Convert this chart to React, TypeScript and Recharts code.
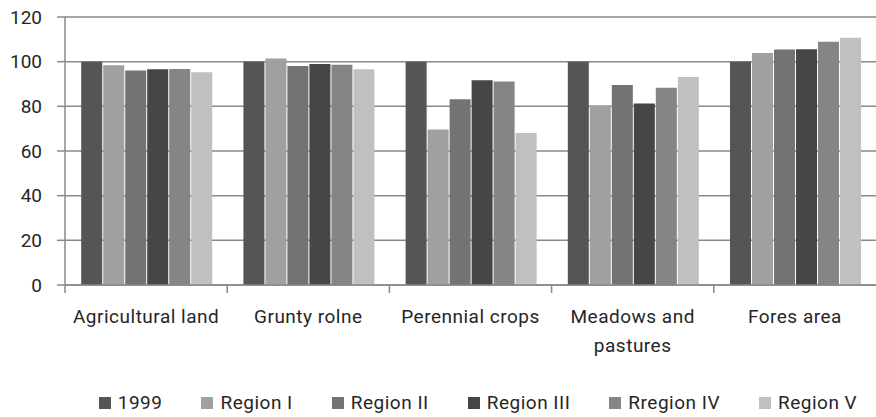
import React from "react";
import {
  BarChart,
  Bar,
  XAxis,
  YAxis,
  CartesianGrid,
  Legend,
  Text,
} from "recharts";

const categories = [
  "Agricultural land",
  "Grunty rolne",
  "Perennial crops",
  "Meadows and pastures",
  "Fores area",
];

const seriesNames = ["1999", "Region I", "Region II", "Region III", "Rregion IV", "Region V"];

const y1999 = [100, 100, 100, 100, 100];
const regionI = [98.4, 101.4, 69.6, 80.4, 103.9];
const regionII = [96.1, 98.1, 83.2, 89.5, 105.4];
const regionIII = [96.6, 98.9, 91.7, 81.3, 105.6];
const regionIV = [96.7, 98.6, 91.1, 88.3, 108.9];
const regionV = [95.3, 96.6, 68.1, 93.1, 110.7];

const yTicks = [0, 20, 40, 60, 80, 100, 120];

const COLORS = ["#555555", "#a0a0a0", "#737373", "#464646", "#858585", "#c0c0c0"];
const FONT = "Roboto, 'Liberation Sans', sans-serif";
const TEXT_COLOR = "#262626";
const LINE_COLOR = "#898989";

const allSeries = [y1999, regionI, regionII, regionIII, regionIV, regionV];

const chartData = categories.map((name, i) => {
  const row: { [key: string]: string | number } = { name };
  seriesNames.forEach((s, j) => {
    row[s] = allSeries[j][i];
  });
  return row;
});

const CategoryTick = (props: any) => {
  const { x, y, payload } = props;
  const half = payload.offset || 0;
  return (
    <g>
      <line x1={x - half} x2={x - half} y1={y} y2={y + 8} stroke={LINE_COLOR} strokeWidth={1.5} />
      <Text
        x={x}
        y={y + 25}
        width={160}
        textAnchor="middle"
        verticalAnchor="start"
        lineHeight="1.5em"
        fill={TEXT_COLOR}
        style={{ fontFamily: FONT, fontSize: 19, letterSpacing: 0.5 }}
      >
        {payload.value}
      </Text>
    </g>
  );
};

const renderLegend = () => (
  <div
    style={{
      height: 44,
      display: "flex",
      justifyContent: "center",
      alignItems: "center",
      paddingLeft: 80,
      paddingTop: 16,
      boxSizing: "border-box",
      fontFamily: FONT,
      fontSize: 19,
      lineHeight: "28px",
      color: TEXT_COLOR,
      letterSpacing: 0.5,
    }}
  >
    {seriesNames.map((s, i) => (
      <span key={s} style={{ display: "flex", alignItems: "center", marginRight: i < seriesNames.length - 1 ? 39 : 0 }}>
        <span style={{ width: 12, height: 12, background: COLORS[i], marginRight: 7, display: "inline-block" }} />
        {s}
      </span>
    ))}
  </div>
);

const App = () => {
  return (
    <div style={{ position: "absolute", left: 0, top: 0, background: "#fff" }}>
      <BarChart
        width={876}
        height={417}
        data={chartData}
        margin={{ top: 17, right: 0, left: 0, bottom: 0 }}
        barCategoryGap="10%"
        barGap={1}
      >
        <CartesianGrid vertical={false} stroke={LINE_COLOR} strokeWidth={1.5} />
        <XAxis
          dataKey="name"
          height={88}
          tickSize={0}
          tickMargin={0}
          tickLine={false}
          axisLine={{ stroke: LINE_COLOR, strokeWidth: 1.5 }}
          tick={<CategoryTick />}
          interval={0}
        />
        <YAxis
          width={65}
          domain={[0, 120]}
          ticks={yTicks}
          tickSize={8}
          tickMargin={15}
          tickLine={{ stroke: LINE_COLOR, strokeWidth: 1.5 }}
          axisLine={{ stroke: LINE_COLOR, strokeWidth: 1.5 }}
          tick={{ fill: TEXT_COLOR, fontSize: 19, fontFamily: FONT }}
        />
        <Legend verticalAlign="bottom" content={renderLegend} />
        {seriesNames.map((s, i) => (
          <Bar key={s} dataKey={s} fill={COLORS[i]} isAnimationActive={false} />
        ))}
      </BarChart>
    </div>
  );
};

export default App;
